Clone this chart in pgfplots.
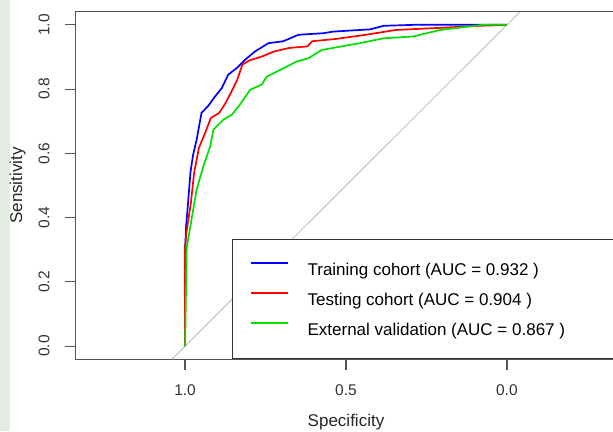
\documentclass[border=0pt]{standalone}
\usepackage{fontspec}
\setmainfont{Liberation Sans}
\usepackage{pgfplots}
\pgfplotsset{compat=1.18}
\definecolor{stripbg}{HTML}{E4ECE4}
\definecolor{axisgray}{HTML}{555555}
\definecolor{diaggray}{HTML}{BBBBBB}
\definecolor{rblue}{HTML}{0000FF}
\definecolor{rred}{HTML}{FF0000}
\definecolor{rgreen}{HTML}{00E000}

\begin{document}
\begin{tikzpicture}[x=1pt,y=1pt]
\fill[white] (0,0) rectangle (613,431);
\fill[stripbg] (0,0) rectangle (10,431);
\begin{axis}[
    at={(76pt,72pt)}, anchor=south west,
    scale only axis,
    width=540pt, height=347pt,
    xmin=-0.339, xmax=1.339,
    ymin=-0.04, ymax=1.04,
    x dir=reverse,
    clip=false,
    xtick={1,0.5,0},
    xticklabels={1.0,0.5,0.0},
    ytick={0,0.2,0.4,0.6,0.8,1},
    yticklabels={0.0,0.2,0.4,0.6,0.8,1.0},
    tick pos=left,
    tick align=outside,
    major tick length=10pt,
    axis line style={axisgray, line width=1pt},
    tick style={axisgray, line width=1pt},
    tick label style={font=\fontsize{15.5}{18}\selectfont, text=black!80},
    yticklabel style={rotate=90, anchor=south},
    xticklabel shift=12pt,
    yticklabel shift=13pt,
    label style={font=\fontsize{17}{20}\selectfont, text=black!85},
    xlabel={Specificity},
    ylabel={Sensitivity},
    xlabel shift=12pt,
    ylabel shift=6pt,
    legend style={at={(1,0)}, anchor=south east,
        draw=black!80, line width=0.8pt,
        inner xsep=17pt, inner ysep=22pt,
        row sep=15pt, column sep=19pt,
        font=\fontsize{17}{20}\selectfont,
        nodes={inner sep=0pt, text height=14pt, text depth=1pt}},
    legend cell align=left,
]
\addplot[diaggray, line width=0.8pt, forget plot] coordinates {(1.04,-0.04) (-0.04,1.04)};

% Training cohort
\addplot[rblue, line width=1.7pt,
  legend image code/.code={\draw[rblue, line width=1.7pt] (0pt,6pt) -- (37pt,6pt);}]
  coordinates {
(1,0) (1,0.30) (0.997,0.37) (0.990,0.456) (0.983,0.544) (0.975,0.596)
(0.964,0.643) (0.949,0.726) (0.928,0.748) (0.907,0.777) (0.886,0.803)
(0.866,0.845) (0.840,0.865) (0.814,0.891) (0.783,0.917) (0.741,0.943)
(0.695,0.949) (0.648,0.969) (0.570,0.974) (0.539,0.979) (0.425,0.986)
(0.383,0.997) (0.290,1.0) (0,1)};
\addlegendentry{\makebox[291pt][l]{Training cohort (AUC = 0.932 )}}

% Testing cohort
\addplot[rred, line width=1.7pt,
  legend image code/.code={\draw[rred, line width=1.7pt] (0pt,6pt) -- (37pt,6pt);}]
  coordinates {
(1,0) (1,0.307) (0.996,0.353) (0.982,0.446) (0.972,0.539) (0.957,0.617)
(0.938,0.663) (0.920,0.710) (0.894,0.726) (0.874,0.757) (0.853,0.798)
(0.838,0.829) (0.822,0.876) (0.801,0.889) (0.760,0.902) (0.724,0.917)
(0.677,0.928) (0.620,0.933) (0.605,0.949) (0.532,0.956) (0.439,0.969)
(0.346,0.984) (0.222,0.990) (0.084,0.997) (0,1)};
\addlegendentry{\makebox[291pt][l]{Testing cohort (AUC = 0.904 )}}

% External validation
\addplot[rgreen, line width=1.7pt,
  legend image code/.code={\draw[rgreen, line width=1.7pt] (0pt,6pt) -- (37pt,6pt);}]
  coordinates {
(1,0) (0.995,0.307) (0.980,0.394) (0.964,0.488) (0.943,0.560) (0.922,0.622)
(0.912,0.674) (0.881,0.705) (0.855,0.720) (0.834,0.746) (0.819,0.767)
(0.798,0.798) (0.762,0.814) (0.746,0.839) (0.694,0.865) (0.653,0.886)
(0.617,0.896) (0.575,0.922) (0.513,0.933) (0.457,0.943) (0.384,0.958)
(0.290,0.964) (0.249,0.974) (0.208,0.984) (0.074,1.0) (0,1)};
\addlegendentry{\makebox[291pt][l]{External validation (AUC = 0.867 )}}

% outward tick marks on the frame, in the style of R's base graphics
\draw[axisgray, line width=1.2pt]
  (axis cs:1,-0.04) -- ++(0pt,-11pt)
  (axis cs:0.5,-0.04) -- ++(0pt,-11pt)
  (axis cs:0,-0.04) -- ++(0pt,-11pt)
  (axis cs:1.339,0) -- ++(-11pt,0pt)
  (axis cs:1.339,0.2) -- ++(-11pt,0pt)
  (axis cs:1.339,0.4) -- ++(-11pt,0pt)
  (axis cs:1.339,0.6) -- ++(-11pt,0pt)
  (axis cs:1.339,0.8) -- ++(-11pt,0pt)
  (axis cs:1.339,1) -- ++(-11pt,0pt);
\end{axis}
\pgfresetboundingbox
\path (0,0) rectangle (613,431);
\end{tikzpicture}
\end{document}
